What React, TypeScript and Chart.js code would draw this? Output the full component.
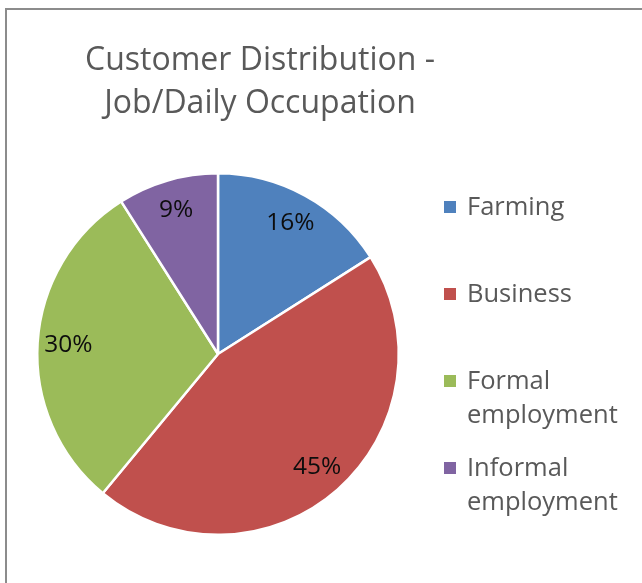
import React, { useEffect, useRef } from "react";
import { Chart, registerables } from "chart.js";

Chart.register(...registerables);

const categories = ["Farming", "Business", "Formal employment", "Informal employment"];
const legendLines = [["Farming"], ["Business"], ["Formal", "employment"], ["Informal", "employment"]];
const shares = [16, 45, 30, 9];
const sliceColors = ["#4F81BD", "#C0504D", "#9BBB59", "#8064A2"];
const titleLines = ["Customer Distribution -", "Job/Daily Occupation"];

const FONT = "'Open Sans', 'DejaVu Sans', sans-serif";

const framePlugin = {
  id: "frame",
  beforeDraw(chart: any) {
    const ctx = chart.ctx;
    ctx.save();
    ctx.fillStyle = "#ffffff";
    ctx.fillRect(0, 0, chart.width, chart.height);
    ctx.strokeStyle = "#8c8c8c";
    ctx.lineWidth = 2;
    ctx.beginPath();
    ctx.moveTo(6, chart.height + 2);
    ctx.lineTo(6, 9);
    ctx.lineTo(chart.width + 2, 9);
    ctx.stroke();
    ctx.restore();
  },
};

const titlePlugin = {
  id: "customTitle",
  afterDraw(chart: any) {
    const ctx = chart.ctx;
    ctx.save();
    ctx.font = `32px ${FONT}`;
    ctx.fillStyle = "#595959";
    ctx.textAlign = "center";
    ctx.textBaseline = "middle";
    titleLines.forEach((t, i) => ctx.fillText(t, 260, 61 + i * 43));
    ctx.restore();
  },
};

const sliceLabelPlugin = {
  id: "sliceLabels",
  afterDatasetsDraw(chart: any) {
    const ctx = chart.ctx;
    const meta = chart.getDatasetMeta(0);
    const data = chart.data.datasets[0].data as number[];
    ctx.save();
    ctx.font = `24.5px ${FONT}`;
    ctx.fillStyle = "#0d0d0d";
    ctx.textAlign = "center";
    ctx.textBaseline = "middle";
    meta.data.forEach((arc: any, i: number) => {
      const { x, y, startAngle, endAngle, outerRadius } = arc.getProps(
        ["x", "y", "startAngle", "endAngle", "outerRadius"],
        true
      );
      const mid = (startAngle + endAngle) / 2;
      const r = outerRadius * 0.83;
      ctx.fillText(`${data[i]}%`, x + Math.cos(mid) * r, y + Math.sin(mid) * r);
    });
    ctx.restore();
  },
};

const legendPlugin = {
  id: "customLegend",
  afterDraw(chart: any) {
    const ctx = chart.ctx;
    const colors = chart.data.datasets[0].backgroundColor as string[];
    ctx.save();
    ctx.font = `25.5px ${FONT}`;
    ctx.textAlign = "left";
    ctx.textBaseline = "middle";
    legendLines.forEach((lines, i) => {
      const y0 = 207 + i * 87;
      ctx.fillStyle = colors[i];
      ctx.fillRect(444, y0 - 6, 12, 12);
      ctx.fillStyle = "#595959";
      lines.forEach((ln, j) => ctx.fillText(ln, 467, y0 + 1 + j * 34));
    });
    ctx.restore();
  },
};

export default function App() {
  const ref = useRef<HTMLCanvasElement | null>(null);
  useEffect(() => {
    if (!ref.current) return;
    const chart = new Chart(ref.current, {
      type: "pie",
      data: {
        labels: categories,
        datasets: [
          {
            data: shares,
            backgroundColor: sliceColors,
            borderColor: "#ffffff",
            borderWidth: 2.5,
          },
        ],
      },
      options: {
        responsive: false,
        animation: false,
        layout: { padding: { left: 36, right: 242, top: 172, bottom: 47 } },
        plugins: {
          legend: { display: false },
          title: { display: false },
          tooltip: { enabled: false },
        },
      },
      plugins: [framePlugin, titlePlugin, sliceLabelPlugin, legendPlugin],
    });
    return () => chart.destroy();
  }, []);
  return (
    <div style={{ position: "fixed", left: 0, top: 0, width: 642, height: 583, overflow: "hidden", background: "#fff" }}>
      <canvas ref={ref} width={642} height={583} style={{ display: "block" }} />
    </div>
  );
}
